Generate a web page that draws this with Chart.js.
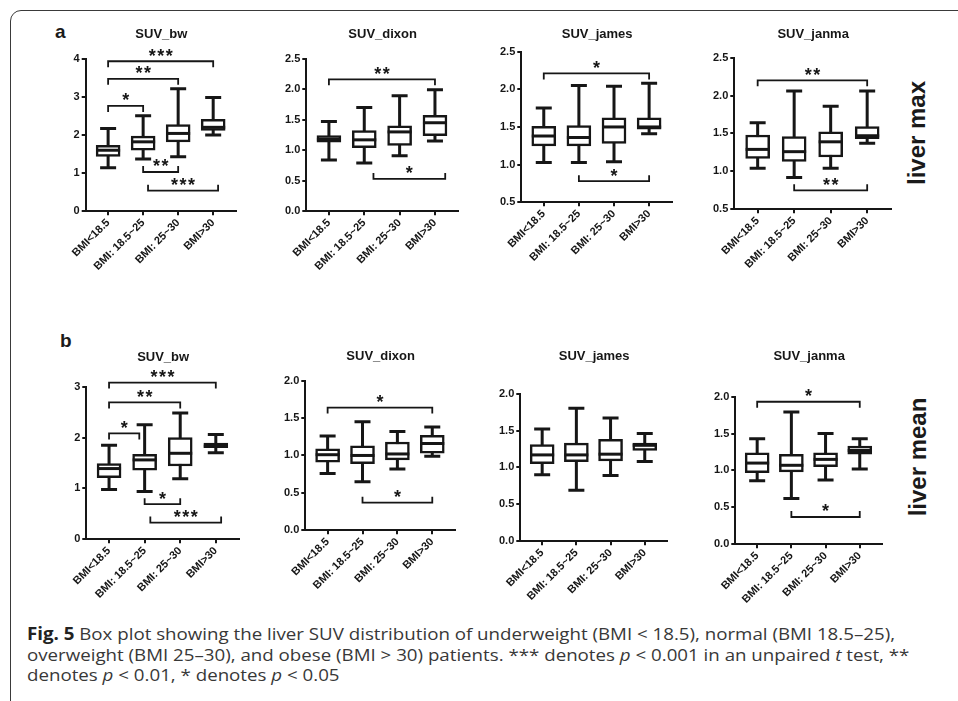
<!DOCTYPE html>
<html>
<head>
<meta charset="utf-8">
<script src="https://cdn.jsdelivr.net/npm/chart.js@4.4.1/dist/chart.umd.min.js"></script>
<style>
  html, body { margin: 0; padding: 0; background: #fff; }
  #fig { position: relative; width: 958px; height: 701px; overflow: hidden; font-family: "Liberation Sans", Arial, sans-serif; color: #1a1a1a; }
  #frame { position: absolute; left: 10px; top: 10px; width: 1000px; height: 800px; border: 1.5px solid #3a3a3a; border-radius: 11px; }
  .cv { position: absolute; }
  .lab { position: absolute; font-weight: bold; font-size: 19px; line-height: 19px; }
  .side { position: absolute; font-weight: bold; font-size: 24px; white-space: nowrap; transform: translate(-50%, -50%) rotate(-90deg); }
  #cap { position: absolute; left: 27px; top: 624px; font-family: "Open Sans", "Liberation Sans", sans-serif; font-size: 17px; line-height: 20.5px; color: #383838; white-space: nowrap; transform-origin: 0 0; }
  #cap b { color: #222; }
</style>
</head>
<body>
<div id="fig">
  <div id="frame"></div>
  <div class="lab" style="left:55px;top:22px">a</div>
  <div class="lab" style="left:60px;top:331px">b</div>
  <div class="side" style="left:917px;top:133px">liver max</div>
  <div class="side" style="left:918px;top:457px">liver mean</div>
  <div id="cap"><span id="capLine1"><b>Fig. 5</b> Box plot showing the liver SUV distribution of underweight (BMI &lt; 18.5), normal (BMI 18.5–25),</span><br>overweight (BMI 25–30), and obese (BMI &gt; 30) patients. *** denotes <i>p</i> &lt; 0.001 in an unpaired <i>t</i> test, **<br>denotes <i>p</i> &lt; 0.01, * denotes <i>p</i> &lt; 0.05</div>
</div>
<script>
// --- data: each row is [min, q1, median, q3, max] per BMI group ---
const cats = ["BMI<18.5", "BMI: 18.5~25", "BMI: 25~30", "BMI>30"];

const maxBw    = [[1.14, 1.44, 1.60, 1.73, 2.17], [1.37, 1.60, 1.82, 1.97, 2.50], [1.43, 1.82, 2.04, 2.27, 3.21], [2.00, 2.12, 2.20, 2.41, 2.98]];
const maxDixon = [[0.84, 1.13, 1.18, 1.24, 1.47], [0.79, 1.04, 1.17, 1.32, 1.70], [0.91, 1.08, 1.30, 1.40, 1.89], [1.15, 1.24, 1.45, 1.57, 1.99]];
const maxJames = [[1.03, 1.25, 1.38, 1.51, 1.75], [1.03, 1.25, 1.36, 1.52, 2.05], [1.04, 1.28, 1.50, 1.62, 2.04], [1.41, 1.47, 1.50, 1.62, 2.08]];
const maxJanma = [[1.04, 1.17, 1.29, 1.48, 1.64], [0.92, 1.13, 1.26, 1.46, 2.06], [1.04, 1.19, 1.39, 1.52, 1.86], [1.37, 1.43, 1.47, 1.59, 2.06]];

const meanBw    = [[0.98, 1.21, 1.39, 1.49, 1.85], [0.94, 1.36, 1.56, 1.67, 2.25], [1.19, 1.44, 1.69, 2.00, 2.48], [1.70, 1.80, 1.83, 1.89, 2.06]];
const meanDixon = [[0.76, 0.91, 1.01, 1.09, 1.26], [0.65, 0.89, 1.00, 1.13, 1.45], [0.82, 0.94, 1.02, 1.18, 1.32], [0.99, 1.03, 1.16, 1.27, 1.38]];
const meanJames = [[0.90, 1.05, 1.17, 1.31, 1.52], [0.69, 1.08, 1.17, 1.33, 1.80], [0.89, 1.09, 1.18, 1.38, 1.67], [1.08, 1.23, 1.30, 1.33, 1.46]];
const meanJanma = [[0.86, 0.97, 1.10, 1.24, 1.43], [0.62, 0.98, 1.07, 1.22, 1.79], [0.87, 1.05, 1.15, 1.24, 1.50], [1.02, 1.22, 1.27, 1.33, 1.43]];

// significance brackets: [from group, to group, level, stars, legs]
const maxBwSig    = [[0, 3, 3.93, "***", "down"], [0, 2, 3.47, "**", "down"], [0, 1, 2.76, "*", "down"], [1, 2, 1.03, "**", "up"], [1.14, 3.14, 0.54, "***", "up"]];
const maxDixonSig = [[0, 3, 2.16, "**", "down"], [1.26, 3.29, 0.53, "*", "up"]];
const maxJamesSig = [[0, 3, 2.21, "*", "down"], [1, 3, 0.78, "*", "up"]];
const maxJanmaSig = [[0, 3, 2.20, "**", "down"], [1, 3, 0.75, "**", "up"]];
const meanBwSig    = [[0, 3, 3.08, "***", "down"], [0, 2, 2.69, "**", "down"], [0, 0.85, 2.08, "*", "down"], [1, 2, 0.69, "*", "up"], [1.16, 3.15, 0.33, "***", "up"]];
const meanDixonSig = [[0, 3, 1.64, "*", "down"], [1, 3, 0.37, "*", "up"]];
const meanJamesSig = [];
const meanJanmaSig = [[0, 3, 1.93, "*", "down"], [1, 3, 0.37, "*", "up"]];

const INK = "#161616";
const FONT = "'Liberation Sans', Arial, sans-serif";

// area = chart area [left, top, right, bottom] on the page
const panels = [
  { title: "SUV_bw",    rows: maxBw,     sig: maxBwSig,     yMin: 0,   yMax: 4,   step: 1,   dec: 0, area: [86, 59, 238, 212],  tpad: 16 },
  { title: "SUV_dixon", rows: maxDixon,  sig: maxDixonSig,  yMin: 0,   yMax: 2.5, step: 0.5, dec: 1, area: [306, 59, 459, 212], tpad: 16 },
  { title: "SUV_james", rows: maxJames,  sig: maxJamesSig,  yMin: 0.5, yMax: 2.5, step: 0.5, dec: 1, area: [521, 52, 673, 203], tpad: 9 },
  { title: "SUV_janma", rows: maxJanma,  sig: maxJanmaSig,  yMin: 0.5, yMax: 2.5, step: 0.5, dec: 1, area: [734, 58, 892, 210], tpad: 15 },
  { title: "SUV_bw",    rows: meanBw,    sig: meanBwSig,    yMin: 0,   yMax: 3,   step: 1,   dec: 0, area: [86, 387, 240, 540], tpad: 21 },
  { title: "SUV_dixon", rows: meanDixon, sig: meanDixonSig, yMin: 0,   yMax: 2,   step: 0.5, dec: 1, area: [305, 381, 456, 531], tpad: 16 },
  { title: "SUV_james", rows: meanJames, sig: meanJamesSig, yMin: 0,   yMax: 2,   step: 0.5, dec: 1, area: [520, 394, 668, 542], tpad: 29 },
  { title: "SUV_janma", rows: meanJanma, sig: meanJanmaSig, yMin: 0,   yMax: 2,   step: 0.5, dec: 1, area: [735, 397, 883, 545], tpad: 32 }
];

function boxPlugin(p) {
  return {
    id: "boxes",
    beforeDatasetsDraw(chart) {
      // whiskers + caps, under the boxes
      const { ctx, scales: { x, y } } = chart;
      ctx.save();
      ctx.strokeStyle = INK;
      ctx.lineWidth = 3;
      p.rows.forEach((r, i) => {
        const cx = x.getPixelForValue(i);
        const lo = y.getPixelForValue(r[0]);
        const hi = y.getPixelForValue(r[4]);
        ctx.beginPath();
        ctx.moveTo(cx, lo); ctx.lineTo(cx, hi);
        ctx.moveTo(cx - 8, lo); ctx.lineTo(cx + 8, lo);
        ctx.moveTo(cx - 8, hi); ctx.lineTo(cx + 8, hi);
        ctx.stroke();
      });
      ctx.restore();
    },
    afterDatasetsDraw(chart) {
      // medians
      const { ctx, scales: { y } } = chart;
      const bars = chart.getDatasetMeta(0).data;
      ctx.save();
      ctx.strokeStyle = INK;
      ctx.lineWidth = 3;
      p.rows.forEach((r, i) => {
        const b = bars[i];
        const my = y.getPixelForValue(r[2]);
        ctx.beginPath();
        ctx.moveTo(b.x - b.width / 2, my);
        ctx.lineTo(b.x + b.width / 2, my);
        ctx.stroke();
      });
      ctx.restore();
    },
    afterDraw(chart) {
      // significance brackets
      const { ctx, scales: { x, y } } = chart;
      ctx.save();
      ctx.strokeStyle = INK;
      ctx.fillStyle = INK;
      ctx.lineWidth = 1.8;
      ctx.font = "bold 18px " + FONT;
      ctx.textAlign = "center";
      ctx.textBaseline = "alphabetic";
      ctx.letterSpacing = "1.5px";
      p.sig.forEach(([a, b, v, txt, legs]) => {
        const x0 = x.getPixelForValue(a);
        const x1 = x.getPixelForValue(b);
        const yy = y.getPixelForValue(v);
        const leg = legs === "down" ? 6 : -6;
        ctx.beginPath();
        ctx.moveTo(x0, yy + leg);
        ctx.lineTo(x0, yy);
        ctx.lineTo(x1, yy);
        ctx.lineTo(x1, yy + leg);
        ctx.stroke();
        ctx.fillText(txt, (x0 + x1) / 2 + 0.75, yy + 0.5);
      });
      ctx.restore();
    }
  };
}

function axisStyle() {
  return {
    grid: { display: true, drawOnChartArea: false, drawTicks: true, tickLength: 4, color: INK, lineWidth: 2, offset: false },
    border: { display: true, color: INK, width: 2 }
  };
}

function makeConfig(p) {
  const tickFont = { size: 11, weight: "bold", family: FONT };
  return {
    type: "bar",
    data: {
      datasets: [{
        data: p.rows.map((r, i) => ({ x: i, y: [r[1], r[3]] })),
        backgroundColor: "#fff",
        borderColor: INK,
        borderWidth: 2.5,
        borderSkipped: false,
        barThickness: 24
      }]
    },
    options: {
      responsive: false,
      maintainAspectRatio: false,
      animation: false,
      events: [],
      layout: { padding: 0 },
      plugins: {
        legend: { display: false },
        tooltip: { enabled: false },
        title: {
          display: true, text: p.title, fullSize: false, color: INK,
          font: { size: 13, weight: "bold", family: FONT },
          padding: { top: 0, bottom: p.tpad }
        }
      },
      scales: {
        x: {
          type: "linear", min: -0.64, max: 3.68, offset: false,
          afterBuildTicks: (s) => { s.ticks = cats.map((c, i) => ({ value: i })); },
          ticks: { callback: (v) => cats[v], minRotation: 45, maxRotation: 45, autoSkip: false, color: INK, font: tickFont, padding: 1 },
          ...axisStyle()
        },
        y: {
          min: p.yMin, max: p.yMax,
          ticks: { stepSize: p.step, callback: (v) => v.toFixed(p.dec), color: INK, font: tickFont, padding: 2 },
          ...axisStyle()
        }
      }
    },
    plugins: [boxPlugin(p)]
  };
}

const fig = document.getElementById("fig");
panels.forEach((p) => {
  const cv = document.createElement("canvas");
  cv.className = "cv";
  cv.width = 240;
  cv.height = 300;
  fig.appendChild(cv);
  const chart = new Chart(cv, makeConfig(p));
  const [L, T, R, B] = p.area;
  let ca = chart.chartArea;
  chart.resize(Math.round(chart.width + (R - L) - (ca.right - ca.left)), Math.round(chart.height + (B - T) - (ca.bottom - ca.top)));
  ca = chart.chartArea;
  cv.style.left = (L - ca.left) + "px";
  cv.style.top = (T - ca.top) + "px";
});

// caption: squeeze to the narrow face of the original (first line runs 27 -> 895)
const cap = document.getElementById("cap");
const w1 = document.getElementById("capLine1").getBoundingClientRect().width;
cap.style.transform = "scaleX(" + (868 / w1) + ")";
</script>
</body>
</html>
